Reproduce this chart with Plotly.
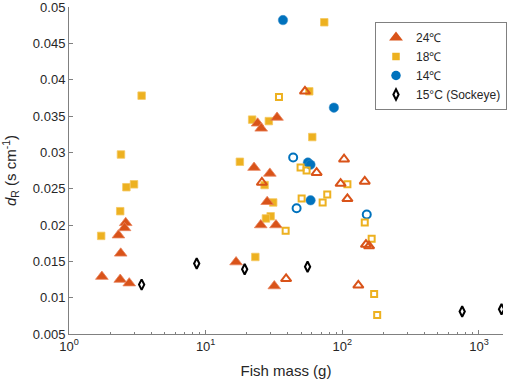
import plotly.graph_objects as go

# ---- data ----
# 24 C, filled triangles
t24_mass = [1.74, 2.37, 2.76, 2.39, 2.30, 2.60, 2.55, 33.3, 24.0, 25.5, 22.6, 29.5, 28.2, 25.3, 32.7, 16.7, 31.8]
t24_dr   = [0.0129, 0.0125, 0.0120, 0.0161, 0.0186, 0.0203, 0.0196, 0.0348, 0.0340, 0.0333, 0.0279, 0.0271, 0.0232, 0.0200, 0.0200, 0.0149, 0.0116]
# 24 C, open triangles
t24o_mass = [53.3, 103, 64.9, 146, 97.2, 109, 149, 157, 38.8, 131, 25.8]
t24o_dr   = [0.0384, 0.02905, 0.0272, 0.0260, 0.0257, 0.0236, 0.0173, 0.0171, 0.0126, 0.0117, 0.02585]
# 18 C, filled squares
t18_mass = [3.40, 2.40, 2.63, 2.99, 2.37, 1.72, 21.9, 29.0, 17.8, 27.0, 31.2, 29.9, 27.6, 23.1, 73.8, 60.3, 57.3]
t18_dr   = [0.0378, 0.0297, 0.0252, 0.0256, 0.0219, 0.0185, 0.0345, 0.0343, 0.0287, 0.0255, 0.0231, 0.0212, 0.0209, 0.0156, 0.0479, 0.0321, 0.0384]
# 18 C, open squares
t18o_mass = [34.4, 49.5, 54.8, 109, 50.4, 77.6, 71.8, 38.5, 146, 164, 171, 180]
t18o_dr   = [0.0376, 0.0279, 0.0275, 0.0256, 0.02365, 0.0242, 0.0231, 0.0192, 0.02035, 0.0181, 0.0105, 0.0076]
# 14 C, filled circles
t14_mass = [36.8, 86.8, 56.0, 58.5, 58.6]
t14_dr   = [0.0482, 0.03615, 0.0286, 0.0283, 0.0234]
# 14 C, open circles
t14o_mass = [43.7, 46.3, 151]
t14o_dr   = [0.0293, 0.0223, 0.02145]
# 15 C sockeye, open diamonds
sock_mass = [3.40, 8.60, 19.3, 55.7, 754, 1463]
sock_dr   = [0.0118, 0.0147, 0.0139, 0.01425, 0.0081, 0.0084]

y_ticks = [0.005, 0.01, 0.015, 0.02, 0.025, 0.03, 0.035, 0.04, 0.045, 0.05]
y_labels = ["0.005", "0.01", "0.015", "0.02", "0.025", "0.03", "0.035", "0.04", "0.045", "0.05"]
x_ticks = [1, 10, 100, 1000]
x_labels = ["10<sup>0</sup>", "10<sup>1</sup>", "10<sup>2</sup>", "10<sup>3</sup>"]

C_RED = "#D95319"
C_YEL = "#EDB120"
C_BLU = "#0072BD"

fig = go.Figure()

fig.add_trace(go.Scatter(x=t18_mass, y=t18_dr, mode="markers", name="18℃", showlegend=False,
                         marker=dict(symbol="square", size=7.5, color=C_YEL, line=dict(width=0.8, color="#F5C860"))))
fig.add_trace(go.Scatter(x=t24_mass, y=t24_dr, mode="markers", name="24℃", showlegend=False,
                         marker=dict(symbol="triangle-up", size=11, color=C_RED, line=dict(width=0.8, color="#E9825A"))))
fig.add_trace(go.Scatter(x=t14_mass, y=t14_dr, mode="markers", name="14℃", showlegend=False,
                         marker=dict(symbol="circle", size=9.5, color=C_BLU, line=dict(width=0.5, color="#3A8FCB"))))
fig.add_trace(go.Scatter(x=t14o_mass, y=t14o_dr, mode="markers", showlegend=False,
                         marker=dict(symbol="circle-open", size=8, color=C_BLU, line=dict(width=2, color=C_BLU))))
fig.add_trace(go.Scatter(x=t18o_mass, y=t18o_dr, mode="markers", showlegend=False,
                         marker=dict(symbol="square-open", size=6, color=C_YEL, line=dict(width=2, color=C_YEL))))
fig.add_trace(go.Scatter(x=t24o_mass, y=t24o_dr, mode="markers", showlegend=False,
                         marker=dict(symbol="triangle-up-open", size=9, color=C_RED, line=dict(width=2, color=C_RED))))
fig.add_trace(go.Scatter(x=sock_mass, y=sock_dr, mode="markers", showlegend=False,
                         marker=dict(symbol="diamond-tall-open", size=7.5, color="black", line=dict(width=2, color="black"))))

# legend-only traces (filled symbols, in legend order)
for nm, sym, col, sz in [("24℃", "triangle-up", C_RED, 12), ("18℃", "square", C_YEL, 7.5),
                         ("14℃", "circle", C_BLU, 9.5), ("15°C (Sockeye)", "diamond-tall-open", "black", 7.5)]:
    fig.add_trace(go.Scatter(x=[None], y=[None], mode="markers", name=nm,
                             marker=dict(symbol=sym, size=sz, color=col, line=dict(width=2 if "open" in sym else 0, color=col))))

fig.update_layout(
    width=510, height=381,
    margin=dict(l=69, r=7, t=7, b=47, autoexpand=False),
    paper_bgcolor="white", plot_bgcolor="white",
    font=dict(family="Liberation Sans, Arial, sans-serif", size=13, color="#262626"),
    legend=dict(xref="container", yref="container", x=375 / 510, y=1 - 22 / 381, xanchor="left", yanchor="top",
                bordercolor="#808080", borderwidth=1, bgcolor="white",
                font=dict(size=12), tracegroupgap=0, itemwidth=30),
    xaxis=dict(type="log", range=[0, 3.176], tickvals=x_ticks, ticktext=x_labels, automargin=False,
               ticks="inside", ticklen=4, tickcolor="#808080", showline=True, linecolor="#808080",
               linewidth=1, showgrid=False, zeroline=False, ticklabeloverflow="allow",
               minor=dict(ticks="inside", ticklen=2.5, dtick="D1", tickcolor="#808080", showgrid=False),
               title=dict(text="Fish mass (g)", font=dict(size=15), standoff=12)),
    yaxis=dict(range=[0.004999, 0.050001], tickvals=y_ticks, ticktext=y_labels, automargin=False,
               ticks="inside", ticklen=4, tickcolor="#808080", showline=True, linecolor="#808080",
               linewidth=1, showgrid=False, zeroline=False, ticklabeloverflow="allow",
               title=dict(text="<i>d</i><sub>R</sub> (s cm<sup>-1</sup>)", font=dict(size=15), standoff=12)),
)

# remove the browser's default 8px page margin so the figure sits at the window origin
fig.write_html("out.html", config={"displayModeBar": False},
               post_script="document.body.style.margin='0';document.body.style.overflow='hidden';")
